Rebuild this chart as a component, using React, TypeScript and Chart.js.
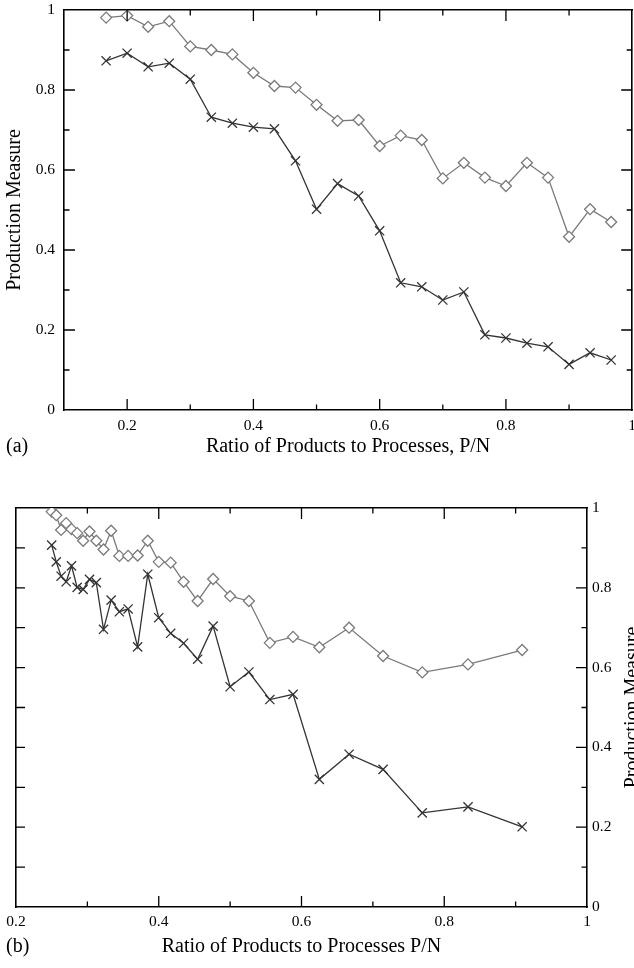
import React, { useEffect, useRef } from "react";
import { Chart, registerables } from "chart.js";

Chart.register(...registerables);

// ---------- Panel (a) data ----------
const ratioA = [0.1667, 0.2, 0.2333, 0.2667, 0.3, 0.3333, 0.3667, 0.4, 0.4333, 0.4667, 0.5, 0.5333, 0.5667, 0.6, 0.6333, 0.6667, 0.7, 0.7333, 0.7667, 0.8, 0.8333, 0.8667, 0.9, 0.9333, 0.9667];
const diamondA = [0.981, 0.986, 0.958, 0.972, 0.909, 0.9, 0.889, 0.843, 0.81, 0.806, 0.763, 0.723, 0.725, 0.66, 0.686, 0.675, 0.579, 0.618, 0.581, 0.56, 0.618, 0.581, 0.433, 0.502, 0.47];
const crossA = [0.873, 0.892, 0.858, 0.867, 0.827, 0.732, 0.717, 0.707, 0.703, 0.623, 0.502, 0.566, 0.535, 0.448, 0.318, 0.308, 0.275, 0.295, 0.188, 0.18, 0.167, 0.158, 0.114, 0.143, 0.125];

// ---------- Panel (b) data ----------
const ratioB = [0.25, 0.2564, 0.2632, 0.2703, 0.2778, 0.2857, 0.2941, 0.303, 0.3125, 0.3226, 0.3333, 0.3448, 0.3571, 0.3704, 0.3846, 0.4, 0.4167, 0.4348, 0.4545, 0.4762, 0.5, 0.5263, 0.5556, 0.5882, 0.625, 0.6667, 0.7143, 0.7692, 0.8333, 0.9091];
const diamondB = [0.991, 0.982, 0.945, 0.962, 0.947, 0.937, 0.918, 0.941, 0.918, 0.896, 0.943, 0.88, 0.88, 0.881, 0.918, 0.865, 0.863, 0.815, 0.767, 0.822, 0.779, 0.767, 0.662, 0.677, 0.651, 0.7, 0.629, 0.588, 0.608, 0.644];
const crossB = [0.907, 0.865, 0.829, 0.815, 0.855, 0.801, 0.796, 0.821, 0.813, 0.696, 0.769, 0.74, 0.747, 0.652, 0.834, 0.725, 0.686, 0.661, 0.621, 0.704, 0.552, 0.589, 0.52, 0.533, 0.32, 0.383, 0.345, 0.236, 0.251, 0.201];

// ---------- Text ----------
const xTitleA = "Ratio of Products to Processes, P/N";
const xTitleB = "Ratio of Products to Processes P/N";
const yTitle = "Production Measure";
const panelA = "(a)";
const panelB = "(b)";

const FONT = "'Liberation Serif', 'Times New Roman', serif";
const GRAY = "#7a7a7a";
const DARK = "#333333";

const tickLabel = (value: number) => {
  const k = Math.round(value * 10);
  if (k % 2 !== 0) return "";
  if (k === 0) return "0";
  if (k === 10) return "1";
  return (k / 10).toString();
};

const makeSeries = (xs: number[], ys: number[], kind: "diamond" | "cross") => ({
  data: xs.map((x, i) => ({ x, y: ys[i] })),
  borderColor: kind === "diamond" ? GRAY : DARK,
  borderWidth: 1.3,
  pointStyle: kind === "diamond" ? "rectRot" : "crossRot",
  pointRadius: kind === "diamond" ? 5.5 : 6.5,
  pointBorderColor: kind === "diamond" ? GRAY : DARK,
  pointBackgroundColor: "rgba(255,255,255,1)",
  pointBorderWidth: 1.3,
  tension: 0,
  fill: false,
  xAxisID: "x",
  yAxisID: "y",
});

type FrameOpts = {
  xMin: number;
  xMax: number;
  leftUniform: boolean;
  extraText: (ctx: CanvasRenderingContext2D, chart: any) => void;
};

const framePlugin = (o: FrameOpts) => ({
  id: "frameTicks",
  afterDraw(chart: any) {
    const { ctx, chartArea } = chart;
    const { left, right, top, bottom } = chartArea;
    const xs = chart.scales.x;
    const ys = chart.scales.y;
    ctx.save();
    ctx.strokeStyle = "#000";
    ctx.lineWidth = 1.3;
    ctx.beginPath();
    const i0 = Math.round(o.xMin * 10);
    const i1 = Math.round(o.xMax * 10);
    for (let i = i0 + 1; i < i1; i++) {
      const px = xs.getPixelForValue(i / 10);
      const len = i % 2 === 0 ? 11 : 5.5;
      ctx.moveTo(px, bottom);
      ctx.lineTo(px, bottom - len);
      ctx.moveTo(px, top);
      ctx.lineTo(px, top + len);
    }
    for (let j = 1; j < 10; j++) {
      const py = ys.getPixelForValue(j / 10);
      const len = j % 2 === 0 ? 11 : 5.5;
      const lenL = o.leftUniform ? 9 : len;
      ctx.moveTo(left, py);
      ctx.lineTo(left + lenL, py);
      ctx.moveTo(right, py);
      ctx.lineTo(right - len, py);
    }
    ctx.stroke();
    o.extraText(ctx, chart);
    ctx.restore();
  },
});

const axisBorder = { display: true, color: "#000", width: 1.6 };
const tickFont = { family: FONT, size: 15.5 };

// force the box size of a scale and drop the label-overhang padding
const fix = (dim: "width" | "height", size: number) => (s: any) => {
  s[dim] = size;
  s.paddingTop = 0;
  s.paddingBottom = 0;
  s.paddingLeft = 0;
  s.paddingRight = 0;
};

function PanelA() {
  const ref = useRef<HTMLCanvasElement>(null);
  useEffect(() => {
    if (!ref.current) return;
    const chart = new Chart(ref.current, {
      type: "line",
      data: {
        datasets: [
          makeSeries(ratioA, diamondA, "diamond") as any,
          makeSeries(ratioA, crossA, "cross") as any,
        ],
      },
      options: {
        responsive: false,
        animation: false,
        devicePixelRatio: 1,
        layout: { padding: 0 },
        plugins: { legend: { display: false }, tooltip: { enabled: false } },
        scales: {
          x: {
            type: "linear",
            position: "bottom",
            min: 0.1,
            max: 1.0,
            grid: { display: false, drawTicks: false },
            border: axisBorder,
            ticks: { stepSize: 0.1, autoSkip: false, maxRotation: 0, padding: 7, color: "#000", font: tickFont, callback: (v: any) => tickLabel(Number(v)) },
            title: { display: true, text: xTitleA, color: "#000", font: { family: FONT, size: 20 }, padding: { top: 0, bottom: 1 } },
            afterFit: fix("height", 50),
          },
          x2: {
            type: "linear",
            position: "top",
            min: 0.1,
            max: 1.0,
            grid: { display: false, drawTicks: false },
            border: axisBorder,
            ticks: { display: false },
            afterFit: fix("height", 10),
          },
          y: {
            type: "linear",
            position: "left",
            min: 0,
            max: 1,
            grid: { display: false, drawTicks: false },
            border: axisBorder,
            ticks: { stepSize: 0.1, autoSkip: false, padding: 9, color: "#000", font: tickFont, callback: (v: any) => tickLabel(Number(v)) },
            title: { display: true, text: yTitle, color: "#000", font: { family: FONT, size: 20 }, padding: { top: 3, bottom: 0 } },
            afterFit: fix("width", 64),
          },
          y2: {
            type: "linear",
            position: "right",
            min: 0,
            max: 1,
            grid: { display: false, drawTicks: false },
            border: axisBorder,
            ticks: { display: false },
            afterFit: fix("width", 5),
          },
        },
      } as any,
      plugins: [
        framePlugin({
          xMin: 0.1,
          xMax: 1.0,
          leftUniform: false,
          extraText: (ctx) => {
            ctx.fillStyle = "#000";
            ctx.font = `20px ${FONT}`;
            ctx.textAlign = "left";
            ctx.textBaseline = "middle";
            ctx.fillText(panelA, 6, 447);
          },
        }) as any,
      ],
    });
    return () => chart.destroy();
  }, []);
  return (
    <canvas
      ref={ref}
      width={640}
      height={460}
      style={{ position: "absolute", left: 0, top: 0, width: 640, height: 460 }}
    />
  );
}

function PanelB() {
  const ref = useRef<HTMLCanvasElement>(null);
  useEffect(() => {
    if (!ref.current) return;
    const chart = new Chart(ref.current, {
      type: "line",
      data: {
        datasets: [
          makeSeries(ratioB, diamondB, "diamond") as any,
          makeSeries(ratioB, crossB, "cross") as any,
        ],
      },
      options: {
        responsive: false,
        animation: false,
        devicePixelRatio: 1,
        layout: { padding: 0 },
        plugins: { legend: { display: false }, tooltip: { enabled: false } },
        scales: {
          x: {
            type: "linear",
            position: "bottom",
            min: 0.2,
            max: 1.0,
            grid: { display: false, drawTicks: false },
            border: axisBorder,
            ticks: { stepSize: 0.1, autoSkip: false, maxRotation: 0, padding: 6, color: "#000", font: tickFont, callback: (v: any) => tickLabel(Number(v)) },
            title: { display: true, text: xTitleB, color: "#000", font: { family: FONT, size: 20 }, padding: { top: 0, bottom: 9 } },
            afterFit: fix("height", 61),
          },
          x2: {
            type: "linear",
            position: "top",
            min: 0.2,
            max: 1.0,
            grid: { display: false, drawTicks: false },
            border: axisBorder,
            ticks: { display: false },
            afterFit: fix("height", 18),
          },
          yl: {
            type: "linear",
            position: "left",
            min: 0,
            max: 1,
            grid: { display: false, drawTicks: false },
            border: axisBorder,
            ticks: { display: false },
            afterFit: fix("width", 16),
          },
          y: {
            type: "linear",
            position: "right",
            min: 0,
            max: 1,
            grid: { display: false, drawTicks: false },
            border: axisBorder,
            ticks: { stepSize: 0.1, autoSkip: false, padding: 5, color: "#000", font: tickFont, callback: (v: any) => tickLabel(Number(v)) },
            afterFit: fix("width", 47),
          },
        },
      } as any,
      plugins: [
        framePlugin({
          xMin: 0.2,
          xMax: 1.0,
          leftUniform: true,
          extraText: (ctx, chart) => {
            ctx.fillStyle = "#000";
            ctx.font = `20px ${FONT}`;
            ctx.textAlign = "left";
            ctx.textBaseline = "middle";
            ctx.fillText(panelB, 6, 456.5);
            const { top, bottom } = chart.chartArea;
            ctx.save();
            ctx.translate(633, (top + bottom) / 2);
            ctx.rotate(-Math.PI / 2);
            ctx.textAlign = "center";
            ctx.textBaseline = "middle";
            ctx.fillText(yTitle, 0, 0);
            ctx.restore();
          },
        }) as any,
      ],
    });
    return () => chart.destroy();
  }, []);
  return (
    <canvas
      ref={ref}
      width={634}
      height={478}
      style={{ position: "absolute", left: 0, top: 490, width: 634, height: 478 }}
    />
  );
}

export default function App() {
  return (
    <div
      style={{
        position: "absolute",
        left: 0,
        top: 0,
        width: 634,
        height: 968,
        overflow: "hidden",
        background: "#fff",
      }}
    >
      <PanelA />
      <PanelB />
    </div>
  );
}
